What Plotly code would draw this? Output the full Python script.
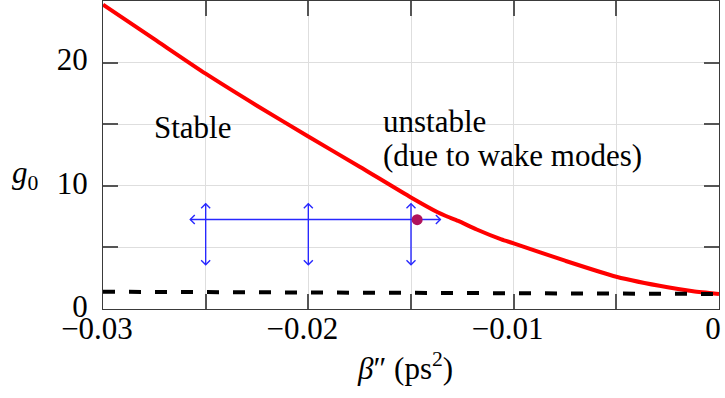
import plotly.graph_objects as go

# ---- data ----
beta = [-0.03, -0.0275, -0.025, -0.0225, -0.02, -0.0175, -0.015, -0.0137, -0.0133,
        -0.0127, -0.0118, -0.0106, -0.01, -0.0075, -0.005, -0.0025, -0.00126, 0.0]
g0 = [24.7, 21.9, 19.1, 16.5, 14.0, 11.55, 9.05, 7.85, 7.55,
      7.15, 6.45, 5.65, 5.33, 3.92, 2.62, 1.76, 1.44, 1.22]

thr_beta = [-0.03, -0.015, 0.0]
thr_g0 = [1.40, 1.31, 1.22]

arrow_x = [-0.025, -0.02, -0.015]
arrow_y_top = 8.55
arrow_y_bot = 3.6
harrow_x = [-0.02575, -0.01357]
harrow_y = 7.26

point_x = [-0.0147]
point_y = [7.25]

x_tickvals = [-0.03, -0.025, -0.02, -0.015, -0.01, -0.005, 0.0]
x_ticktext = ["\u22120.03", "", "\u22120.02", "", "\u22120.01", "", "0"]
y_tickvals = [0, 5, 10, 15, 20, 25]
y_ticktext = ["0", "", "10", "", "20", ""]

# ---- layout geometry ----
W, H = 725, 398
ML, MR, MT, MB = 103, 6, 1, 89
XR = [-0.03, 0.0]
YR = [0, 25]
pw = W - ML - MR
ph = H - MT - MB
dx = (XR[1] - XR[0]) / pw   # data per px
dy = (YR[1] - YR[0]) / ph

FONT = "Liberation Serif"
FS = 31
BLUE = "#2828ff"

# build arrow paths (lines + open chevrons) from the arrow data
ax, ay = [], []
hw, dp = 4.5, 4.5
def add(seg):
    for p in seg:
        ax.append(p[0]); ay.append(p[1])
    ax.append(None); ay.append(None)

for xv in arrow_x:
    add([(xv, arrow_y_bot), (xv, arrow_y_top)])
    add([(xv - hw * dx, arrow_y_top - dp * dy), (xv, arrow_y_top), (xv + hw * dx, arrow_y_top - dp * dy)])
    add([(xv - hw * dx, arrow_y_bot + dp * dy), (xv, arrow_y_bot), (xv + hw * dx, arrow_y_bot + dp * dy)])
add([(harrow_x[0], harrow_y), (harrow_x[1], harrow_y)])
add([(harrow_x[0] + dp * dx, harrow_y + hw * dy), (harrow_x[0], harrow_y), (harrow_x[0] + dp * dx, harrow_y - hw * dy)])
add([(harrow_x[1] - dp * dx, harrow_y + hw * dy), (harrow_x[1], harrow_y), (harrow_x[1] - dp * dx, harrow_y - hw * dy)])

fig = go.Figure()
fig.add_trace(go.Scatter(x=ax, y=ay, mode="lines", line=dict(color=BLUE, width=1.4),
                         hoverinfo="skip", showlegend=False))
fig.add_trace(go.Scatter(x=beta, y=g0, mode="lines",
                         line=dict(color="#ff0000", width=4, shape="spline", smoothing=0.6),
                         showlegend=False))
fig.add_trace(go.Scatter(x=thr_beta, y=thr_g0, mode="lines",
                         line=dict(color="black", width=4, dash="12px,14px"), showlegend=False))
fig.add_trace(go.Scatter(x=point_x, y=point_y, mode="markers",
                         marker=dict(color="#b0125c", size=11), showlegend=False))

axis_common = dict(showline=True, linecolor="#3a3a3a", linewidth=1.3, mirror="allticks",
                   ticks="inside", ticklen=15, tickwidth=1.6, tickcolor="#555555",
                   showgrid=True, gridcolor="#dedede", gridwidth=1, zeroline=False,
                   tickfont=dict(family=FONT, size=FS, color="black"), tickmode="array",
                   ticklabeloverflow="allow")

fig.update_xaxes(range=XR, tickvals=x_tickvals, ticktext=x_ticktext,
                 ticklabelstandoff=-8, ticklabelshift=-6, **axis_common)
fig.update_yaxes(range=YR, tickvals=y_tickvals, ticktext=y_ticktext,
                 ticklabelstandoff=8, ticklabelshift=-3, **axis_common)

annots = [
    dict(text="Stable", x=-0.0256, y=14.7, xref="x", yref="y", showarrow=False,
         xanchor="center", yanchor="middle"),
    dict(text="unstable", x=-0.01645, y=15.2, xref="x", yref="y", showarrow=False,
         xanchor="left", yanchor="middle"),
    dict(text="(due to wake modes)", x=-0.01645, y=12.5, xref="x", yref="y", showarrow=False,
         xanchor="left", yanchor="middle"),
    dict(text="<i>g</i><sub>0</sub>", x=(25 - ML) / pw, y=(H - MB - 175) / ph, xref="paper",
         yref="paper", showarrow=False, xanchor="center", yanchor="middle"),
    dict(text="<i>\u03b2</i>\u2033 (ps<sup>2</sup>)", x=(404.5 - ML) / pw,
         y=(H - MB - 366) / ph, xref="paper", yref="paper", showarrow=False,
         xanchor="center", yanchor="middle"),
]
for a in annots:
    a["font"] = dict(family=FONT, size=FS, color="black")
fig.update_layout(annotations=annots)

fig.update_layout(width=W, height=H, margin=dict(l=ML, r=MR, t=MT, b=MB),
                  paper_bgcolor="white", plot_bgcolor="white",
                  font=dict(family=FONT, size=FS, color="black"))

fig.write_html("out.html")
